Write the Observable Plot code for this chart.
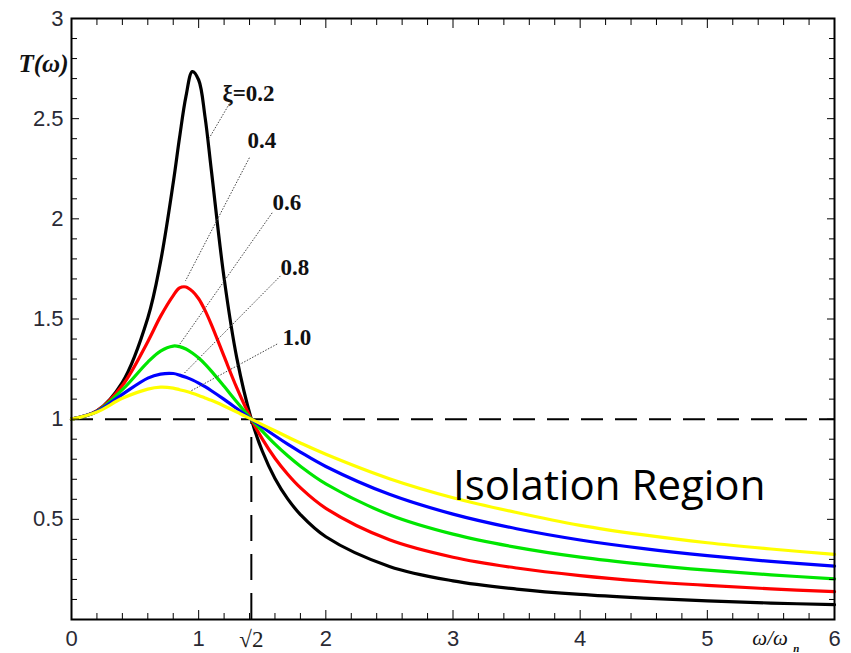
<!DOCTYPE html>
<html><head><meta charset="utf-8">
<script src="https://cdn.jsdelivr.net/npm/d3@7"></script>
<script src="https://cdn.jsdelivr.net/npm/@observablehq/plot@0.6"></script>
<style>body{margin:0;background:#fff} #chart svg{display:block}</style>
</head><body><div id="chart"></div>
<script>
// frequency ratio ω/ωn
const ratio = [0,0.2,0.4,0.6,0.7,0.8,0.85,0.9,0.95,1,1.05,1.1,1.2,1.3,1.414,1.5,1.6,1.7,1.8,2,2.5,3,3.5,4,4.5,5,5.5,6];
// transmissibility T(ω)
const t02 = [1,1.041,1.184,1.505,1.785,2.18,2.407,2.611,2.735,2.693,2.509,2.241,1.704,1.305,1,0.841,0.704,0.602,0.524,0.413,0.265,0.193,0.152,0.125,0.107,0.093,0.082,0.074];
const t04 = [1,1.041,1.168,1.387,1.513,1.617,1.655,1.660,1.639,1.601,1.543,1.472,1.313,1.156,1,0.902,0.805,0.725,0.658,0.555,0.398,0.311,0.257,0.219,0.191,0.170,0.153,0.139];
const t06 = [1,1.039,1.147,1.285,1.340,1.365,1.362,1.350,1.330,1.305,1.275,1.240,1.164,1.086,1,0.940,0.875,0.817,0.765,0.677,0.523,0.426,0.360,0.311,0.275,0.246,0.223,0.203];
const t08 = [1,1.038,1.124,1.205,1.225,1.228,1.220,1.209,1.196,1.180,1.162,1.142,1.099,1.053,1,0.961,0.917,0.875,0.836,0.764,0.625,0.526,0.453,0.397,0.354,0.319,0.290,0.266];
const t10 = [1,1.036,1.104,1.150,1.160,1.155,1.147,1.139,1.129,1.118,1.106,1.094,1.066,1.036,1,0.973,0.942,0.911,0.881,0.825,0.703,0.608,0.534,0.470,0.422,0.383,0.352,0.325];
const dampings = ["0.2","0.4","0.6","0.8","1.0"];
const colors = ["#000000","#ff0000","#00e600","#0000ff","#ffff00"];
const labelText = ["ξ=0.2","0.4","0.6","0.8","1.0"];
const labelX = [1.187,1.384,1.58,1.643,1.659];
const labelY = [2.625,2.39,2.08,1.755,1.405];
const leadX1 = [1.242,1.399,1.578,1.643,1.617];
const leadY1 = [2.575,2.305,2.03,1.715,1.375];
const leadX2 = [1.085,0.896,0.841,0.88,0.936];
const leadY2 = [2.405,1.69,1.365,1.225,1.14];
const xTicks = [0,1,2,3,4,5,6];
const yTicks = [0.5,1,1.5,2,2.5,3];

const series = [t02,t04,t06,t08,t10];
const data = series.flatMap((vals,i)=>ratio.map((r,j)=>({r, T: vals[j], z: dampings[i]})));
const labels = labelText.map((t,i)=>({t, x: labelX[i], y: labelY[i], x1: leadX1[i], y1: leadY1[i], x2: leadX2[i], y2: leadY2[i]}));
const xMinor = d3.range(0, 31).map(i=>i*0.2).filter(v=>Math.abs(v-Math.round(v))>1e-6);
const yMinor = d3.range(0, 31).map(i=>i*0.1).filter(v=>Math.abs(v*2-Math.round(v*2))>1e-6);

const sans = "Liberation Sans, Arial, sans-serif";
const serif = "Liberation Serif, Times New Roman, serif";
const chart = Plot.plot({
  width: 851, height: 653,
  marginLeft: 71, marginRight: 17, marginTop: 18, marginBottom: 34,
  x: {domain: [0, 6], axis: null},
  y: {domain: [0, 3], axis: null},
  color: {domain: dampings, range: colors},
  style: {background: "#fff"},
  marks: [
    Plot.ruleY([1], {stroke: "#000", strokeWidth: 2, strokeDasharray: "22,12"}),
    Plot.ruleX([Math.SQRT2], {y1: 0, y2: 1, stroke: "#000", strokeWidth: 2, strokeDasharray: "26,13"}),
    Plot.line(data, {x: "r", y: "T", z: "z", stroke: "z", strokeWidth: 3.2, curve: "catmull-rom"}),
    Plot.link(labels, {x1: "x1", y1: "y1", x2: "x2", y2: "y2", stroke: "#444", strokeWidth: 1, strokeDasharray: "1.5,1.5"}),
    Plot.text(labels, {x: "x", y: "y", text: "t", textAnchor: "start", fontSize: 23, fontWeight: "bold", fontFamily: serif, fill: "#111"}),
    Plot.text(["Isolation Region"], {x: 3.0, y: 0.665, text: d=>d, textAnchor: "start", fontSize: 42, fontFamily: "Open Sans, sans-serif", fill: "#000"}),
    Plot.frame({stroke: "#000", strokeWidth: 2}),
    Plot.axisX(xTicks, {anchor: "bottom", tickSize: -9, stroke: "#000", tickFormat: () => "", label: null}),
    Plot.axisX(xTicks, {anchor: "top", tickSize: -9, stroke: "#000", tickFormat: () => "", label: null}),
    Plot.axisX(xMinor, {anchor: "bottom", tickSize: -6, stroke: "#000", tickFormat: () => "", label: null}),
    Plot.axisX(xMinor, {anchor: "top", tickSize: -6, stroke: "#000", tickFormat: () => "", label: null}),
    Plot.axisY(yTicks, {anchor: "left", tickSize: -8, stroke: "#000", tickFormat: () => "", label: null}),
    Plot.axisY(yTicks, {anchor: "right", tickSize: -8, stroke: "#000", tickFormat: () => "", label: null}),
    Plot.axisY(yMinor, {anchor: "left", tickSize: -6, stroke: "#000", tickFormat: () => "", label: null}),
    Plot.axisY(yMinor, {anchor: "right", tickSize: -6, stroke: "#000", tickFormat: () => "", label: null}),
    Plot.text(xTicks, {x: d=>d, frameAnchor: "bottom", dy: 19, text: d=>String(d), fontSize: 22, fontFamily: sans, fill: "#2a2a35", lineAnchor: "middle"}),
    Plot.text(yTicks, {y: d=>d, frameAnchor: "left", dx: -8, text: d=>String(d), textAnchor: "end", fontSize: 22, fontFamily: sans, fill: "#2a2a35", lineAnchor: "middle"}),
    Plot.text([Math.SQRT2], {x: d=>d, frameAnchor: "bottom", dy: 20, text: () => "√2", fontSize: 23, fontFamily: serif, fill: "#222", lineAnchor: "middle"}),
    Plot.text(["ω/ω"], {x: 5.354, frameAnchor: "bottom", dy: 19, text: d=>d, textAnchor: "start", fontSize: 21, fontStyle: "italic", fontFamily: serif, fill: "#111", lineAnchor: "middle"}),
    Plot.text(["n"], {x: 5.675, frameAnchor: "bottom", dy: 29, text: d=>d, textAnchor: "start", fontSize: 11, fontStyle: "italic", fontWeight: "bold", fontFamily: serif, fill: "#111", lineAnchor: "middle"}),
    Plot.text(["T(ω)"], {x: 0, y: 2.775, text: d=>d, textAnchor: "end", dx: -3, fontSize: 25, fontStyle: "italic", fontWeight: "bold", fontFamily: serif, fill: "#111", lineAnchor: "middle"})
  ]
});
document.getElementById("chart").appendChild(chart);
</script></body></html>
